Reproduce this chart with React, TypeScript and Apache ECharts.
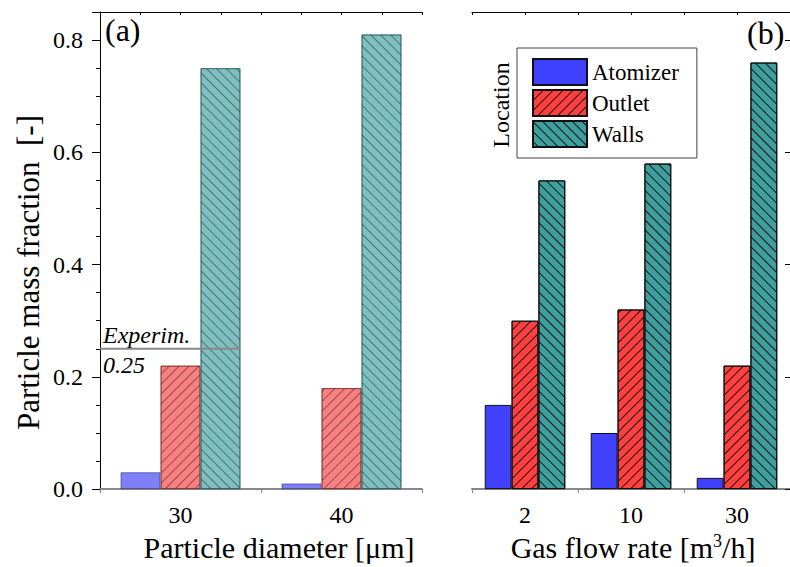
import React, { useEffect, useRef } from "react";
import * as echarts from "echarts";

const CATS_A = ["30", "40"];
const CATS_B = ["2", "10", "30"];
const ATOMIZER_A = [0.03, 0.01];
const OUTLET_A = [0.22, 0.18];
const WALLS_A = [0.75, 0.81];
const ATOMIZER_B = [0.15, 0.1, 0.02];
const OUTLET_B = [0.3, 0.32, 0.22];
const WALLS_B = [0.55, 0.58, 0.76];
const EXPERIM = 0.25;
const EXPERIM_LABEL = "Experim.";
const SERIES_NAMES = ["Atomizer", "Outlet", "Walls"];

const FONT = "Liberation Serif";
const Y_MAX = 0.85;
const GAP_A = 0.255;
const GAP_B = 0.24;

const hatch = (rot: number, color: string) => ({
  symbol: "rect",
  symbolSize: 1,
  dashArrayX: [1, 0],
  dashArrayY: [1, 6],
  rotation: rot,
  color,
});
const FWD = -Math.PI / 4;
const BACK = Math.PI / 4;

export default function App() {
  const ref = useRef<HTMLDivElement>(null);
  useEffect(() => {
    if (!ref.current) return;
    const chart = echarts.init(ref.current, null, { renderer: "svg" });
    const bottomCat = (idx: number, data: string[], name: string) => ({
      type: "category",
      gridIndex: idx,
      data,
      position: "bottom",
      axisLine: { onZero: false, lineStyle: { color: "#888", width: 2 } },
      axisTick: { show: true, length: 4, lineStyle: { color: "#888" } },
      axisLabel: { fontFamily: FONT, fontSize: 24, color: "#000", margin: 14 },
      name,
      nameLocation: "middle",
      nameGap: 37,
      nameTextStyle: {
        fontFamily: FONT,
        fontSize: 30,
        color: "#000",
        padding: idx === 0 ? [0, 0, 0, 36] : [0, 0, 0, 4],
        rich: { sup: { fontFamily: FONT, fontSize: 18, color: "#000", verticalAlign: "top", padding: [0, 0, 12, 0] } },
      },
    });
    const topVal = (idx: number, max: number) => ({
      type: "value",
      gridIndex: idx,
      position: "top",
      min: 0,
      max,
      interval: 1,
      axisLine: { show: true, onZero: false, lineStyle: { color: "#000", width: 1 } },
      axisTick: { show: true, inside: true, length: 3, lineStyle: { color: "#000" } },
      axisLabel: { show: false },
      splitLine: { show: false },
    });
    const option: any = {
      animation: false,
      backgroundColor: "#fff",
      textStyle: { fontFamily: FONT },
      grid: [
        { left: 100, width: 322, top: 12, bottom: 74.5, containLabel: false },
        { left: 472, right: -2, top: 12, bottom: 74.5, containLabel: false },
      ],
      legend: {
        data: SERIES_NAMES,
        orient: "vertical",
        left: 517,
        top: 48,
        itemWidth: 54,
        itemHeight: 26,
        itemGap: 3,
        icon: "rect",
        padding: [10, 18, 10, 15],
        borderColor: "#444",
        borderWidth: 1,
        textStyle: { fontFamily: FONT, fontSize: 23, color: "#000" },
      },
      xAxis: [
        bottomCat(0, CATS_A, "Particle diameter [μm]"),
        bottomCat(1, CATS_B, "Gas flow rate [m{sup|3}/h]"),
        topVal(0, 8),
        topVal(1, 6),
      ],
      yAxis: [
        {
          type: "value",
          gridIndex: 0,
          min: 0,
          max: Y_MAX,
          interval: 0.2,
          axisLine: { show: true, onZero: false, lineStyle: { color: "#000", width: 1 } },
          axisTick: { show: true, length: 8, lineStyle: { color: "#000" } },
          minorTick: { show: true, splitNumber: 4, length: 4, lineStyle: { color: "#000" } },
          axisLabel: {
            fontFamily: FONT,
            fontSize: 24,
            color: "#000",
            margin: 17,
            showMaxLabel: false,
            formatter: (v: number) => v.toFixed(1),
          },
          splitLine: { show: false },
          minorSplitLine: { show: false },
          name: "Particle mass fraction  [-]",
          nameLocation: "middle",
          nameGap: 56,
          nameTextStyle: { fontFamily: FONT, fontSize: 31, color: "#000", padding: [0, 44, 0, 0] },
        },
        {
          type: "value",
          gridIndex: 1,
          position: "right",
          min: 0,
          max: Y_MAX,
          interval: 0.2,
          axisLine: { show: false, onZero: false },
          axisTick: { show: true, inside: true, length: 5, lineStyle: { color: "#000" } },
          axisLabel: { show: false },
          splitLine: { show: false },
        },
      ],
      series: [
        {
          name: "Atomizer", type: "bar", xAxisIndex: 1, yAxisIndex: 1, data: ATOMIZER_B,
          barGap: 0, barCategoryGap: (GAP_B * 100) + "%",
          itemStyle: { color: "#4040ff", borderColor: "#111", borderWidth: 1 },
        },
        {
          name: "Outlet", type: "bar", xAxisIndex: 1, yAxisIndex: 1, data: OUTLET_B,
          barGap: 0, barCategoryGap: (GAP_B * 100) + "%",
          itemStyle: { color: "#ff4040", borderColor: "#111", borderWidth: 1, decal: hatch(FWD, "rgba(0,0,0,0.85)") },
        },
        {
          name: "Walls", type: "bar", xAxisIndex: 1, yAxisIndex: 1, data: WALLS_B,
          barGap: 0, barCategoryGap: (GAP_B * 100) + "%",
          itemStyle: { color: "#3f9e9e", borderColor: "#111", borderWidth: 1, decal: hatch(BACK, "rgba(0,0,0,0.85)") },
        },
        {
          name: "Atomizer", type: "bar", xAxisIndex: 0, yAxisIndex: 0, data: ATOMIZER_A,
          barGap: 0, barCategoryGap: (GAP_A * 100) + "%",
          itemStyle: { color: "#7f7ff8", borderColor: "rgba(40,40,120,0.6)", borderWidth: 1 },
        },
        {
          name: "Outlet", type: "bar", xAxisIndex: 0, yAxisIndex: 0, data: OUTLET_A,
          barGap: 0, barCategoryGap: (GAP_A * 100) + "%",
          itemStyle: { color: "#f88080", borderColor: "rgba(120,40,40,0.6)", borderWidth: 1, decal: hatch(FWD, "rgba(0,0,0,0.4)") },
        },
        {
          name: "Walls", type: "bar", xAxisIndex: 0, yAxisIndex: 0, data: WALLS_A,
          barGap: 0, barCategoryGap: (GAP_A * 100) + "%",
          itemStyle: { color: "#80bfbf", borderColor: "rgba(30,90,90,0.6)", borderWidth: 1, decal: hatch(BACK, "rgba(0,0,0,0.4)") },
        },
        {
          name: "experim",
          type: "line",
          xAxisIndex: 2,
          yAxisIndex: 0,
          data: [[0, EXPERIM], [4 * (1 - GAP_A / 2), EXPERIM]],
          symbol: "none",
          silent: true,
          z: 5,
          lineStyle: { color: "#888", width: 2 },
        },
      ],
    };
    chart.setOption(option);
    const yPix = chart.convertToPixel({ yAxisIndex: 0 }, EXPERIM) as number;
    chart.setOption({
      graphic: [
        { type: "text", left: 105, top: 14, style: { text: "(a)", font: `32px ${FONT}`, fill: "#000" } },
        { type: "text", left: 747, top: 17, style: { text: "(b)", font: `32px ${FONT}`, fill: "#000" } },
        {
          type: "text", x: 501, y: 105, rotation: Math.PI / 2,
          style: { text: "Location", font: `24px ${FONT}`, fill: "#000", align: "center", verticalAlign: "middle" },
        },
        {
          type: "text", x: 103, y: yPix - 2,
          style: { text: EXPERIM_LABEL, font: `italic 24px ${FONT}`, fill: "#000", align: "left", verticalAlign: "bottom" },
        },
        {
          type: "text", x: 103, y: yPix + 4,
          style: { text: EXPERIM.toFixed(2), font: `italic 24px ${FONT}`, fill: "#000", align: "left", verticalAlign: "top" },
        },
      ],
    });
    return () => chart.dispose();
  }, []);
  return <div ref={ref} style={{ position: "fixed", left: 0, top: 0, width: 790, height: 567 }} />;
}
